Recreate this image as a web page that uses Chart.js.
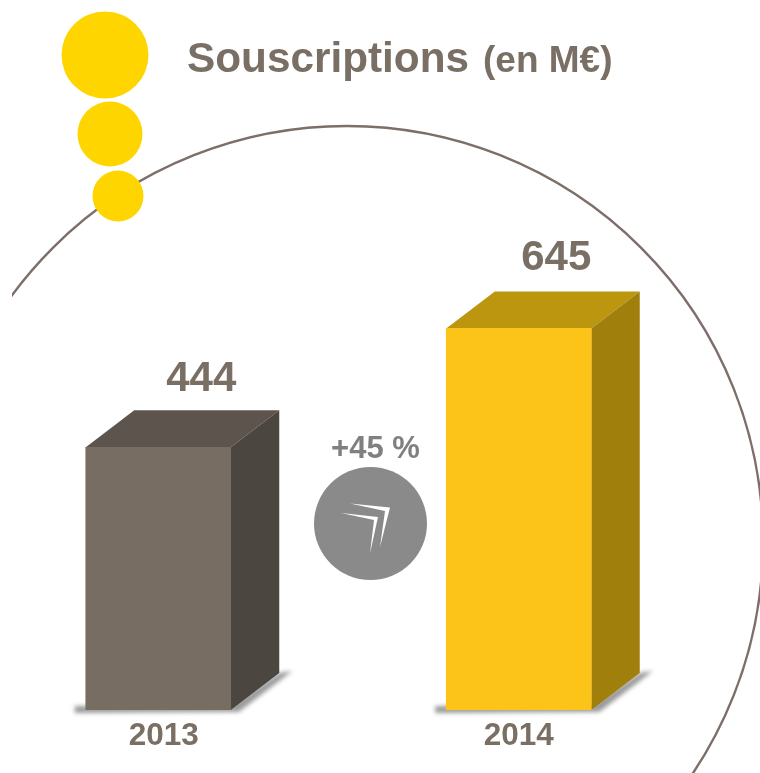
<!DOCTYPE html>
<html lang="fr">
<head>
<meta charset="utf-8">
<title>Souscriptions (en M€)</title>
<style>html,body{margin:0;padding:0;background:#fff;overflow:hidden;width:760px;height:773px;position:relative}canvas{display:block;position:absolute;left:-22px;top:0}</style>
<script src="https://cdn.jsdelivr.net/npm/chart.js@4"></script>
</head>
<body>
<canvas id="c" width="782" height="773"></canvas>
<script>
const categories = ['2013', '2014'];
const souscriptions = [444, 645];
const titleMain = 'Souscriptions';
const titleUnit = '(en M€)';
const growthLabel = '+45 %';

const FONT = '"Liberation Sans", Arial, sans-serif';
const TEXT = '#7a6f64';
const faces = [
  { front: '#776d62', top: '#5d544d', side: '#4b463f' },
  { front: '#fcc419', top: '#bc960f', side: '#a17f0c' }
];
const DEPTH = { x: 48.5, y: -37 };
const CANVAS_SHIFT = 22;
const valueLabelShift = [43, 37.5];
const valueLabelRise = [56.5, 58];
const tickLabelShift = [5.5, 0];

function poly(ctx, pts, fill) {
  ctx.beginPath();
  pts.forEach((p, i) => i ? ctx.lineTo(p[0], p[1]) : ctx.moveTo(p[0], p[1]));
  ctx.closePath();
  ctx.fillStyle = fill;
  ctx.fill();
}
function disc(ctx, x, y, r, fill) {
  ctx.beginPath();
  ctx.arc(x, y, r, 0, Math.PI * 2);
  ctx.fillStyle = fill;
  ctx.fill();
}

const scene = {
  id: 'scene',
  beforeDatasetsDraw(chart) {
    const ctx = chart.ctx;
    // large background arc
    ctx.save();
    ctx.translate(CANVAS_SHIFT, 0);
    ctx.beginPath();
    ctx.rect(12, 0, 748, 773);
    ctx.clip();
    ctx.beginPath();
    ctx.arc(347, 542, 416, 0, Math.PI * 2);
    ctx.strokeStyle = '#7d6e69';
    ctx.lineWidth = 2.4;
    ctx.stroke();
    ctx.restore();

    // 3D extrusion and floor shadow for each bar
    chart.getDatasetMeta(0).data.forEach((bar, i) => {
      const l = bar.x - bar.width / 2, r = bar.x + bar.width / 2;
      const t = bar.y, b = bar.base;
      const dx = DEPTH.x, dy = DEPTH.y;
      ctx.save();
      ctx.filter = 'blur(2px)';
      poly(ctx, [[l - 11, b - 4], [r, b - 4], [r + dx, b + dy], [r + dx + 13, b + dy - 2],
                 [r + 8, b + 2], [l - 11, b + 3]], '#9a9a9a');
      ctx.restore();
      poly(ctx, [[l, t], [l + dx, t + dy], [r + dx, t + dy], [r, t]], faces[i].top);
      poly(ctx, [[r, t], [r + dx, t + dy], [r + dx, b + dy], [r, b]], faces[i].side);
    });
  },
  afterDatasetsDraw(chart) {
    const ctx = chart.ctx;
    const meta = chart.getDatasetMeta(0).data;

    // value labels and category labels follow the library's scales
    ctx.save();
    ctx.textBaseline = 'alphabetic';
    ctx.fillStyle = TEXT;
    ctx.textAlign = 'center';
    ctx.font = 'bold 42px ' + FONT;
    meta.forEach((bar, i) => {
      ctx.fillText(String(souscriptions[i]), bar.x + valueLabelShift[i], bar.y - valueLabelRise[i]);
    });
    const xs = chart.scales.x;
    ctx.font = 'bold 31.5px ' + FONT;
    categories.forEach((c, i) => {
      ctx.fillText(c, xs.getPixelForValue(i) + tickLabelShift[i], 745);
    });
    ctx.restore();

    ctx.save();
    ctx.translate(CANVAS_SHIFT, 0);

    // yellow dots
    disc(ctx, 105, 55, 43.5, '#ffd500');
    disc(ctx, 110, 134, 32.5, '#ffd500');
    disc(ctx, 118, 196, 25.5, '#ffd500');

    // growth badge
    disc(ctx, 370.5, 523.5, 56.5, '#8a8a8a');
    poly(ctx, [[350, 503.5], [390, 507.5], [380, 547], [385, 511]], '#ffffff');
    poly(ctx, [[341, 513], [378, 517], [370, 553.5], [374, 520]], '#ffffff');

    ctx.textBaseline = 'alphabetic';
    ctx.fillStyle = TEXT;

    // title
    ctx.textAlign = 'left';
    ctx.font = 'bold 42.3px ' + FONT;
    ctx.fillText(titleMain, 187, 72);
    ctx.font = 'bold 37px ' + FONT;
    ctx.fillText(titleUnit, 483, 72);

    // growth label
    ctx.textAlign = 'center';
    ctx.font = 'bold 31px ' + FONT;
    ctx.fillStyle = '#808080';
    ctx.fillText(growthLabel, 375.5, 458);
    ctx.restore();
  }
};

new Chart(document.getElementById('c'), {
  type: 'bar',
  data: {
    labels: categories,
    datasets: [{
      data: souscriptions,
      backgroundColor: faces.map(f => f.front),
      borderWidth: 0,
      barThickness: 145
    }]
  },
  options: {
    responsive: false,
    animation: false,
    layout: { padding: { left: 0, right: 61, top: 0, bottom: 55 } },
    plugins: { legend: { display: false }, title: { display: false }, tooltip: { enabled: false } },
    scales: {
      x: { grid: { display: false }, border: { display: false }, ticks: { display: false } },
      y: { display: false, min: 0, max: 1200 }
    }
  },
  plugins: [scene]
});
</script>
</body>
</html>
